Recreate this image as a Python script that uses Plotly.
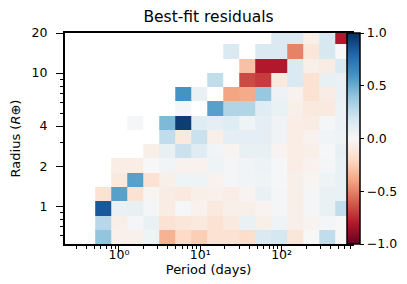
import plotly.graph_objects as go

# Bin edges (period in days, radius in Earth radii)
period_edges = [0.51, 0.803, 1.264, 1.989, 3.13, 4.93, 7.76, 12.21, 19.21,
                30.24, 47.6, 74.9, 117.9, 185.6, 292.2, 460.0, 724.0]
radius_edges = [0.52, 0.666, 0.852, 1.090, 1.395, 1.786, 2.286, 2.926, 3.745,
                4.793, 6.135, 7.852, 10.05, 12.86, 16.46, 21.07]

N = None
# residuals, rows from smallest radius (bottom) to largest (top)
residuals = [
    [0.40, -0.05, -0.05, 0.05, -0.35, -0.20, -0.25, -0.15, -0.15, -0.18, 0.15, 0.18, -0.12, 0.0, 0.25, 0.0],
    [0.28, -0.06, 0.02, 0.07, -0.15, -0.12, -0.10, -0.15, -0.10, 0.07, -0.06, 0.05, -0.06, -0.03, 0.02, 0.0],
    [0.85, 0.07, 0.08, 0.02, -0.08, 0.01, -0.04, -0.10, -0.06, -0.06, -0.03, 0.02, -0.06, 0.02, 0.07, 0.25],
    [-0.15, 0.55, -0.15, -0.02, -0.08, -0.10, -0.06, -0.05, -0.07, -0.03, 0.07, 0.02, -0.06, 0.02, 0.07, 0.07],
    [N, -0.10, 0.55, -0.15, -0.06, 0.05, 0.05, -0.04, 0.02, 0.03, 0.05, 0.01, -0.06, -0.02, 0.05, 0.07],
    [N, -0.07, -0.07, 0.0, 0.03, -0.04, -0.04, 0.05, 0.02, 0.03, 0.06, 0.01, -0.07, -0.04, 0.02, 0.07],
    [N, N, N, -0.06, 0.08, 0.22, 0.12, 0.03, -0.03, 0.08, 0.08, -0.03, -0.07, -0.06, 0.01, 0.08],
    [N, N, N, N, 0.25, -0.10, 0.22, -0.06, 0.10, 0.10, 0.10, 0.04, -0.07, -0.04, 0.03, 0.04],
    [N, N, 0.01, N, 0.45, 0.95, 0.12, 0.10, 0.12, 0.05, 0.10, 0.04, -0.07, -0.08, 0.02, 0.06],
    [N, N, N, N, N, 0.01, N, 0.55, 0.30, 0.30, 0.12, 0.07, -0.06, -0.10, -0.10, 0.06],
    [N, N, N, N, N, 0.60, 0.07, N, -0.40, -0.38, 0.38, 0.06, -0.04, -0.15, -0.08, 0.07],
    [N, N, N, N, N, N, N, 0.25, N, -0.66, -0.70, -0.10, 0.15, -0.15, 0.08, 0.07],
    [N, N, N, N, N, N, N, N, N, -0.30, -0.80, -0.80, 0.15, -0.06, -0.08, 0.15],
    [N, N, N, N, N, N, N, N, 0.15, N, 0.15, 0.15, -0.50, -0.12, 0.17, 0.0],
    [N, N, N, N, N, N, N, N, N, N, N, 0.15, 0.15, -0.06, 0.17, -0.80],
]

x_tickvals = [1, 10, 100]
x_ticktext = ["10\u2070", "10\u00b9", "10\u00b2"]
y_tickvals = [1, 2, 4, 10, 20]
y_ticktext = ["1", "2", "4", "10", "20"]
cb_tickvals = [-1.0, -0.5, 0.0, 0.5, 1.0]
cb_ticktext = ["\u22121.0", "\u22120.5", "0.0", "0.5", "1.0"]

rdbu = [
    [0.0, "#67001f"], [0.1, "#b2182b"], [0.2, "#d6604d"], [0.3, "#f4a582"],
    [0.4, "#fddbc7"], [0.5, "#f7f7f7"], [0.6, "#d1e5f0"], [0.7, "#92c5de"],
    [0.8, "#4393c3"], [0.9, "#2166ac"], [1.0, "#053061"],
]

x_minor = [m * 10 ** e for e in (-1, 0, 1, 2) for m in range(2, 10)
           if 0.21 < m * 10 ** e < 740]
y_minor = [0.6, 0.7, 0.8, 0.9, 3, 5, 6, 7, 8, 9]

font = "DejaVu Sans"

fig = go.Figure(go.Heatmap(
    x=period_edges, y=radius_edges, z=residuals,
    colorscale=rdbu, zmin=-1, zmax=1, hoverongaps=False,
    colorbar=dict(
        x=0.982, xanchor="left", xpad=0, y=0.5, yanchor="middle",
        len=1.0, lenmode="fraction", ypad=0, thickness=13,
        outlinewidth=1.5, outlinecolor="black",
        tickmode="array", tickvals=cb_tickvals, ticktext=cb_ticktext,
        ticks="outside", ticklen=4, tickcolor="black",
        tickfont=dict(family=font, size=12.5, color="black"),
    ),
))

fig.update_layout(
    width=407, height=284,
    margin=dict(l=57, r=63, t=25, b=48, autoexpand=False),
    paper_bgcolor="white", plot_bgcolor="white",
    font=dict(family=font, color="black"),
    title=dict(text="Best-fit residuals", x=0.5, xref="paper", xanchor="center",
               y=1, yref="container", yanchor="top", pad=dict(t=3),
               font=dict(family=font, size=15.5, color="black")),
    xaxis=dict(
        type="log", range=[-0.664, 2.866], automargin=False,
        tickmode="array", tickvals=x_tickvals, ticktext=x_ticktext,
        ticks="outside", ticklen=6, tickwidth=1.2, tickcolor="black",
        ticklabelstandoff=-8,
        minor=dict(tickmode="array", tickvals=x_minor, ticks="outside",
                   ticklen=3, tickwidth=1, tickcolor="black"),
        showline=True, linecolor="black", linewidth=2, mirror=True,
        showgrid=False, zeroline=False,
        tickfont=dict(family=font, size=12.5, color="black"),
        title=dict(text="Period (days)", standoff=4,
                   font=dict(family=font, size=13, color="black")),
    ),
    yaxis=dict(
        type="log", range=[-0.283, 1.301], automargin=False,
        tickmode="array", tickvals=y_tickvals, ticktext=y_ticktext,
        ticks="outside", ticklen=7, tickwidth=1.2, tickcolor="black",
        ticklabelstandoff=6,
        minor=dict(tickmode="array", tickvals=y_minor, ticks="outside",
                   ticklen=3, tickwidth=1, tickcolor="black"),
        showline=True, linecolor="black", linewidth=2, mirror=True,
        showgrid=False, zeroline=False,
        tickfont=dict(family=font, size=12.5, color="black"),
        title=dict(text="Radius (<i>R</i>\u2295)", standoff=13,
                   font=dict(family=font, size=13, color="black")),
    ),
)

fig.write_html("out.html")
